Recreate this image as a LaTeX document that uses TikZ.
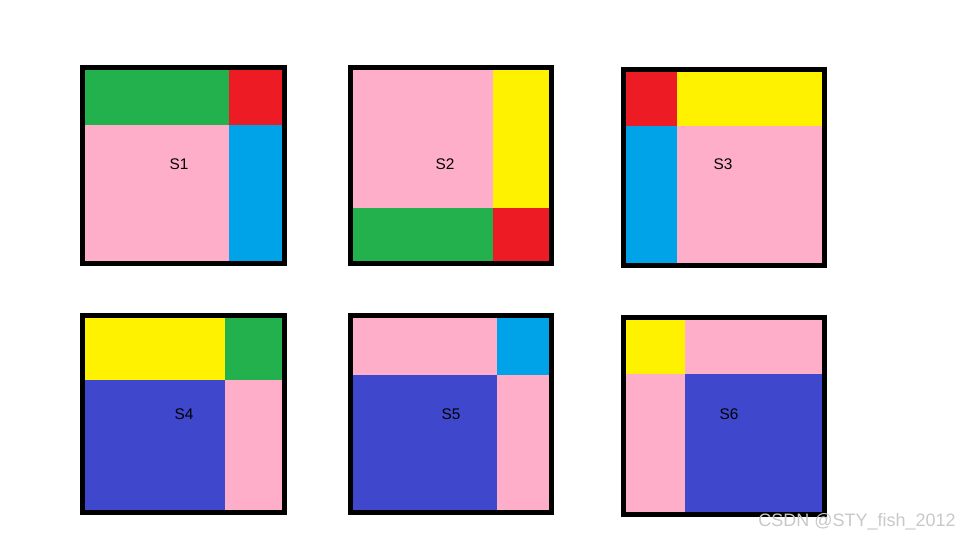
\documentclass[tikz,border=0pt]{standalone}
\usepackage{fontspec}
\setmainfont{Liberation Sans}
\usepackage{tikz}

\definecolor{pgreen}{HTML}{22B14C}
\definecolor{pred}{HTML}{ED1C24}
\definecolor{pblue}{HTML}{00A2E8}
\definecolor{ppink}{HTML}{FFAEC9}
\definecolor{pyellow}{HTML}{FFF200}
\definecolor{pindigo}{HTML}{3F48CC}
\definecolor{wmark}{HTML}{C8C8C8}

\begin{document}
\begin{tikzpicture}[
      x=0.5pt, y=-0.5pt,
      frame/.style={draw=black, line width=2.5pt},
      tag/.style={inner sep=0pt, font=\fontsize{7.7}{9}\selectfont},
      wm/.style={inner sep=0pt, text=wmark, font=\fontsize{9}{11}\selectfont}
    ]
      \useasboundingbox (0,0) rectangle (960,540);

      % Squares: frame corners, split point, four colours, label position
      \foreach \xa/\ya/\xb/\yb/\sx/\sy/\ctl/\ctr/\cbl/\cbr/\lx/\ly/\lab in {
          82/68/284/264/229/125/pgreen/pred/ppink/pblue/179/164/S1,
          350/68/551/264/493/208/ppink/pyellow/pgreen/pred/445/164/S2,
          623/70/824/266/677/126/pred/pyellow/pblue/ppink/723/164/S3,
          82/316/284/512/225/380/pyellow/pgreen/pindigo/ppink/184/414/S4,
          350/316/551/512/497/375/ppink/pblue/pindigo/ppink/451/414/S5,
          623/318/824/514/685/374/pyellow/ppink/ppink/pindigo/729/414/S6} {
        \fill[\ctl] (\xa,\ya) rectangle (\sx,\sy);
        \fill[\ctr] (\sx,\ya) rectangle (\xb,\sy);
        \fill[\cbl] (\xa,\sy) rectangle (\sx,\yb);
        \fill[\cbr] (\sx,\sy) rectangle (\xb,\yb);
        \draw[frame] (\xa,\ya) rectangle (\xb,\yb);
        \node[tag] (\lab) at (\lx,\ly) {\lab};
      }

      % Watermark
      \node[wm] (mark) at (857,522) {CSDN @STY\_fish\_2012};
    \end{tikzpicture}
\end{document}
